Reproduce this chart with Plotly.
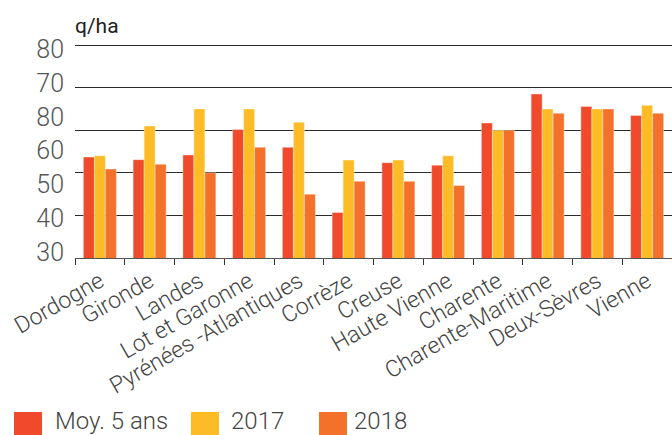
import numpy as np
import plotly.graph_objects as go

departements = ["Dordogne", "Gironde", "Landes", "Lot et Garonne", "Pyrénées -Atlantiques",
                "Corrèze", "Creuse", "Haute Vienne", "Charente", "Charente-Maritime",
                "Deux-Sèvres", "Vienne"]
moy_5_ans = [53.7, 53.1, 54.2, 60.2, 56.0, 40.7, 52.4, 51.8, 61.7, 68.5, 65.6, 63.5]
y2017 = [54.0, 61.0, 65.0, 65.0, 61.9, 53.0, 53.0, 54.0, 60.0, 65.0, 65.0, 65.9]
y2018 = [50.9, 52.0, 50.0, 56.0, 45.0, 48.0, 48.0, 47.0, 60.0, 64.0, 65.0, 64.0]
series_names = ["Moy. 5 ans", "2017", "2018"]
colors = ["#EE4A2B", "#FDBB26", "#F3712B"]
y_tick_labels = ["80", "70", "80", "60", "50", "40", "30"]
grid_values = [30, 40, 50, 60, 70, 80]
unit_label = "q/ha"

W, H = 672, 435
ML, MR, MT, MB = 75, 0, 43, 177
PW, PH = W - ML - MR, H - MT - MB
FONT = "Roboto"

def px_x(px):
    return (px - ML) / PW

def px_y(py):
    return (H - MB - py) / PH

fig = go.Figure()
for name, vals, col in zip(series_names, [moy_5_ans, y2017, y2018], colors):
    fig.add_trace(go.Bar(x=departements, y=vals, name=name, marker_color=col,
                         marker_line=dict(width=0.6, color="rgba(255,255,255,0.6)"),
                         showlegend=False))

ymin, ymax = min(grid_values), max(grid_values)
tickvals = list(np.linspace(ymax - 0.9, ymin + 1.3, len(y_tick_labels)))

fig.update_layout(
    width=W, height=H,
    margin=dict(l=ML, r=MR, t=MT, b=MB, autoexpand=False),
    paper_bgcolor="white", plot_bgcolor="white",
    barmode="group", bargap=0.337, bargroupgap=0,
    font=dict(family=FONT, color="#444", weight=300),
    xaxis=dict(tickangle=-30, tickfont=dict(size=23, color="#444", family=FONT, weight=300),
               showline=True, linecolor="#555", linewidth=1,
               ticks="outside", ticklen=6, tickcolor="#333", tickson="boundaries",
               showgrid=False, fixedrange=True),
    yaxis=dict(range=[ymin, ymax + 0.5], tickvals=tickvals, ticktext=y_tick_labels,
               tickfont=dict(size=25, color="#555", family=FONT, weight=300),
               showgrid=False, zeroline=False, ticks="", ticklabelstandoff=10,
               minor=dict(tickvals=grid_values, showgrid=True, gridcolor="#2a2a2a",
                          gridwidth=1, ticks=""),
               layer="below traces"),
)

fig.add_annotation(text=unit_label, xref="paper", yref="paper",
                   x=px_x(73), y=px_y(26), xanchor="left", yanchor="middle",
                   showarrow=False, font=dict(size=21, color="#222", family=FONT, weight=400))

# legend drawn manually
leg_sq_x = [14, 191, 319]
leg_txt_x = [53, 229, 352]
for sx, tx, name, col in zip(leg_sq_x, leg_txt_x, series_names, colors):
    fig.add_shape(type="rect", xref="paper", yref="paper",
                  x0=px_x(sx), x1=px_x(sx + 28), y0=px_y(412), y1=px_y(440),
                  fillcolor=col, line=dict(width=0))
    fig.add_annotation(text=name, xref="paper", yref="paper",
                       x=px_x(tx), y=px_y(421), xanchor="left", yanchor="middle",
                       showarrow=False, font=dict(size=24, color="#444", family=FONT, weight=300))

fig.write_html("out.html", config={"displayModeBar": False},
               post_script="document.body.style.margin='0';document.body.style.overflow='hidden';")
